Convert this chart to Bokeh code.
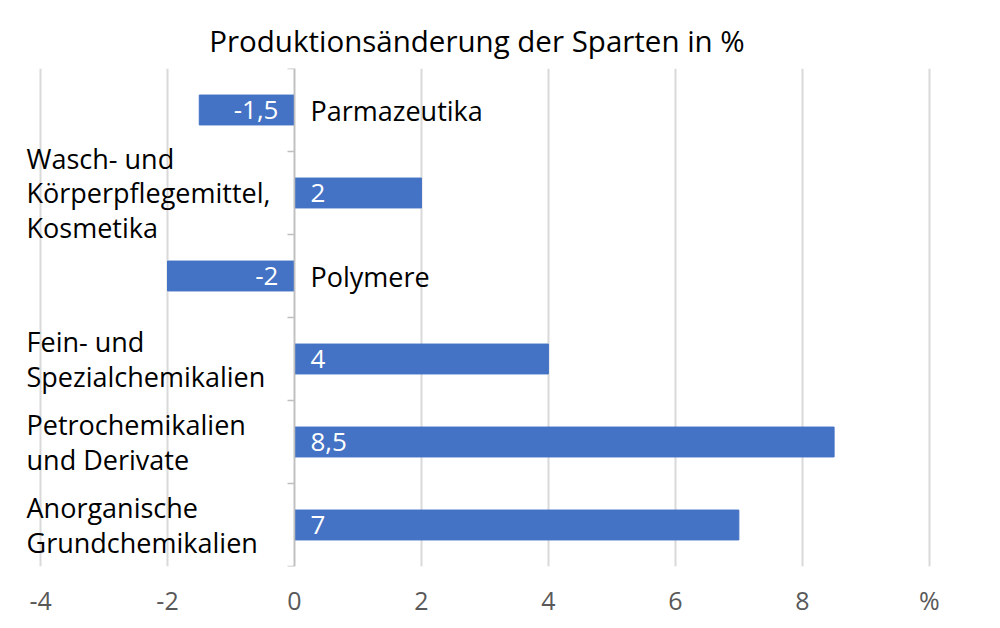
from bokeh.plotting import figure, ColumnDataSource
from bokeh.models import Range1d, FixedTicker, LinearAxis
from bokeh.core.properties import value
from bokeh.embed import file_html
from bokeh.resources import INLINE

# categories from bottom to top
categories = [
    "Anorganische\nGrundchemikalien",
    "Petrochemikalien\nund Derivate",
    "Fein- und\nSpezialchemikalien",
    "Polymere",
    "Wasch- und\nKörperpflegemittel,\nKosmetika",
    "Parmazeutika",
]
changes = [7, 8.5, 4, -2, 2, -1.5]
x_ticks = [-4, -2, 0, 2, 4, 6, 8, 10]
tick_labels = {-4: "-4", -2: "-2", 0: "0", 2: "2", 4: "4", 6: "6", 8: "8", 10: "%"}

FONT = "Open Sans"
BLUE = "#4472C4"

ypos = [i + 0.5 for i in range(len(categories))]
labels = [f"{v:g}".replace(".", ",") for v in changes]

src = ColumnDataSource(data=dict(y=ypos, v=changes, cat=categories, lab=labels))
pos = ColumnDataSource(data=dict(
    y=[y for y, v in zip(ypos, changes) if v > 0],
    lab=[l for l, v in zip(labels, changes) if v > 0],
    cat=[c for c, v in zip(categories, changes) if v > 0],
))
neg = ColumnDataSource(data=dict(
    y=[y for y, v in zip(ypos, changes) if v < 0],
    lab=[l for l, v in zip(labels, changes) if v < 0],
    cat=[c for c, v in zip(categories, changes) if v < 0],
))

p = figure(width=1000, height=628, output_backend="svg", toolbar_location=None,
           x_range=Range1d(-4.3, 10.05), y_range=Range1d(0, len(categories)),
           min_border_left=21, min_border_right=68, min_border_top=68, min_border_bottom=62,
           title="Produktionsänderung der Sparten in %", y_axis_location=None)
p.outline_line_color = None
p.title.align = "center"
p.title.text_font = FONT
p.title.text_font_size = "29.5px"
p.title.text_font_style = "normal"
p.title.text_color = "#000000"
p.title.standoff = 16

# x axis: only labels
p.xaxis.ticker = FixedTicker(ticks=x_ticks)
p.xaxis.major_label_overrides = tick_labels
p.xaxis.axis_line_color = None
p.xaxis.major_tick_line_color = None
p.xaxis.minor_tick_line_color = None
p.xaxis.major_label_standoff = 10
p.xaxis.major_label_text_font = FONT
p.xaxis.major_label_text_font_size = "25px"
p.xaxis.major_label_text_color = "#595959"

p.xgrid.ticker = FixedTicker(ticks=x_ticks)
p.xgrid.grid_line_color = "#d9d9d9"
p.xgrid.grid_line_width = 2
p.ygrid.grid_line_color = None

# vertical category axis at x = 0
yax = LinearAxis(fixed_location=0, ticker=FixedTicker(ticks=list(range(len(categories) + 1))))
yax.major_label_text_font_size = "0px"
yax.major_label_text_color = None
yax.axis_line_color = "#bfbfbf"
yax.axis_line_width = 1.5
yax.major_tick_line_color = "#bfbfbf"
yax.major_tick_line_width = 1.5
yax.major_tick_out = 7
yax.major_tick_in = 0
yax.minor_tick_line_color = None
p.add_layout(yax, "left")

p.hbar(y="y", left=0, right="v", height=0.36, source=src, fill_color=BLUE, line_color=BLUE)

# value labels inside the bars
p.text(x=0, y="y", text="lab", source=pos, x_offset=16, text_align="left", text_baseline="middle",
       text_color="white", text_font=value(FONT), text_font_size="26px")
p.text(x=0, y="y", text="lab", source=neg, x_offset=-16, text_align="right", text_baseline="middle",
       text_color="white", text_font=value(FONT), text_font_size="26px")

# category labels
p.text(x=-4, y="y", text="cat", source=pos, x_offset=-14, text_align="left", text_baseline="middle",
       text_color="black", text_font=value(FONT), text_font_size="27px", text_line_height=0.92)
p.text(x=0, y="y", text="cat", source=neg, x_offset=16, text_align="left", text_baseline="middle",
       text_color="black", text_font=value(FONT), text_font_size="27px")

open("out.html", "w").write(file_html(p, INLINE))
